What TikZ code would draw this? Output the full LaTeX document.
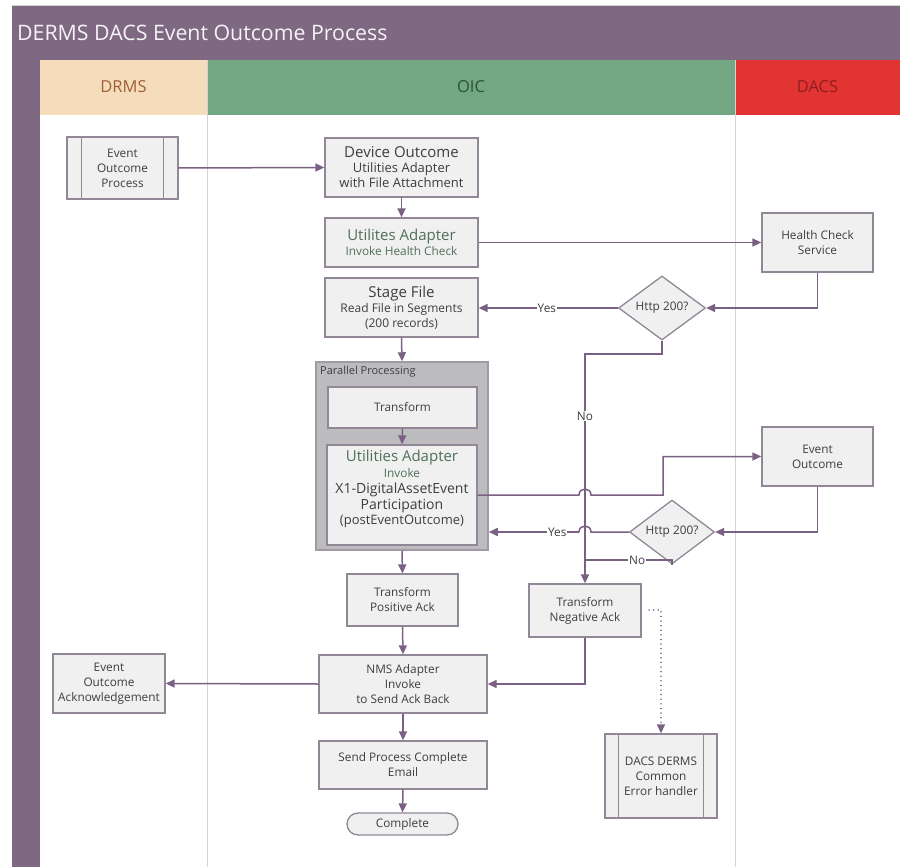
\documentclass[tikz,border=0pt]{standalone}
\usepackage{fontspec}
\setmainfont{Open Sans}
\usetikzlibrary{arrows.meta,shapes.geometric}
\definecolor{framec}{RGB}{126,104,130}
\definecolor{titletxt}{RGB}{246,242,247}
\definecolor{drmsbg}{RGB}{245,221,187}
\definecolor{drmstx}{RGB}{160,95,55}
\definecolor{oicbg}{RGB}{115,166,131}
\definecolor{oictx}{RGB}{42,82,58}
\definecolor{dacsbg}{RGB}{227,52,52}
\definecolor{dacstx}{RGB}{145,30,30}
\definecolor{lanel}{RGB}{215,210,216}
\definecolor{boxfill}{RGB}{240,240,241}
\definecolor{boxline}{RGB}{145,135,150}
\definecolor{arrowc}{RGB}{122,96,130}
\definecolor{parfill}{RGB}{188,188,190}
\definecolor{parline}{RGB}{160,154,164}
\definecolor{txt}{RGB}{62,62,64}
\definecolor{grtxt}{RGB}{78,112,88}
\newcommand{\sz}[2]{\fontsize{#1}{#2}\selectfont}
\begin{document}
\begin{tikzpicture}[x=1pt,y=-1pt,
  box/.style={draw=boxline, fill=boxfill, line width=1.3pt, text=txt, align=center, inner sep=2pt, font=\sz{11.8}{15}},
  dim/.style 2 args={minimum width=#1pt, minimum height=#2pt},
  flow/.style={draw=arrowc, line width=1.5pt, -{Triangle[length=9pt,width=8pt]}},
  plain/.style={draw=arrowc, line width=1.5pt},
  lbl/.style={fill=white, inner sep=1pt, text=txt, font=\sz{11.8}{13}},
  dia/.style={diamond, draw=boxline, fill=boxfill, line width=1.3pt, inner sep=0pt, text=txt, font=\sz{11.8}{13}},
]
\useasboundingbox (0,0) rectangle (900,867);
\fill[white] (0,0) rectangle (900,867);
% frame
\fill[framec] (12,5) rectangle (900,60);
\fill[framec] (12,60) rectangle (40,867);
\fill[drmsbg] (40,60) rectangle (207,115);
\fill[oicbg] (207,60) rectangle (735,115);
\fill[dacsbg] (735,60) rectangle (900,115);
\draw[lanel, line width=1pt] (207,60) -- (207,867);
\draw[lanel, line width=1pt] (735,60) -- (735,867);
\draw[lanel, line width=0.6pt] (12,5) -- (900,5);
\node[anchor=west, text=titletxt, font=\sz{21.3}{25}, inner sep=0pt] (title) at (17,33) {DERMS DACS Event Outcome Process};
\node[text=drmstx, font=\sz{16.5}{18}] (h1) at (123.5,87) {DRMS};
\node[text=oictx, font=\sz{16.5}{18}] (h2) at (471,87) {OIC};
\node[text=dacstx, font=\sz{16.5}{18}] (h3) at (817.5,87) {DACS};

% nodes
\node[box, dim={111}{62}] (epp) at (122.5,168) {Event\\Outcome\\Process};
\draw[boxline, line width=1.3pt] ([xshift=15pt]epp.north west) -- ([xshift=15pt]epp.south west);
\draw[boxline, line width=1.3pt] ([xshift=-15pt]epp.north east) -- ([xshift=-15pt]epp.south east);

\node[box, dim={153}{59}] (dev) at (401.5,167.5) {\sz{15}{17}Device Outcome\\\sz{13}{17}Utilities Adapter\\\sz{13}{17}with File Attachment};
\node[box, dim={153}{49}] (uah) at (401.5,242.5) {\color{grtxt}\sz{15}{17}Utilites Adapter\\\color{grtxt}\sz{11.8}{15}Invoke Health Check};
\node[box, dim={153}{59}] (stage) at (401.5,307.5) {\sz{15}{17}Stage File\\\sz{12}{15}Read File in Segments\\\sz{12}{15}(200 records)};
\node[box, dim={111}{59}] (hcs) at (817.5,242.5) {Health Check\\Service};
\node[dia, minimum width=87pt, minimum height=42pt] (d1) at (662,308) {Http 200?};

\node[draw=parline, fill=parfill, line width=1.5pt, dim={172}{188}] (par) at (402,456) {};
\node[anchor=north west, text=txt, font=\sz{11}{12}, inner sep=0pt] (parl) at (320,366) {Parallel Processing};
\node[box, dim={149}{41}] (tr) at (402.5,407.5) {Transform};
\node[box, dim={150}{100}] (uai) at (402,495) {};
\node[text=txt, align=center, inner sep=0pt] (uait) at (402,489) {\color{grtxt}\sz{15}{16}Utilities Adapter\\[2.5pt]\color{grtxt}\sz{11.8}{15}Invoke\\[3.5pt]\sz{14}{16.5}X1-DigitalAssetEvent\\[1.5pt]\sz{14}{16.5}Participation\\[1.5pt]\sz{13}{16.5}(postEventOutcome)};
\node[box, dim={111}{59}] (eo) at (817.5,456.5) {Event\\Outcome};
\node[dia, minimum width=85pt, minimum height=41pt] (d2) at (672,532) {Http 200?};

\node[box, dim={112}{53}] (tna) at (585,610.5) {Transform\\Negative Ack};
\node[box, dim={111}{52}] (tpa) at (402.5,600) {Transform\\Positive Ack};
\node[box, dim={168}{58}] (nms) at (403,684) {NMS Adapter\\Invoke\\to Send Ack Back};
\node[box, dim={112}{59}] (eoa) at (109,683.5) {Event\\Outcome\\Acknowledgement};
\node[box, dim={112}{84}] (err) at (661,776) {DACS DERMS\\Common\\Error handler};
\draw[boxline, line width=1.3pt] ([xshift=14pt]err.north west) -- ([xshift=14pt]err.south west);
\draw[boxline, line width=1.3pt] ([xshift=-14pt]err.north east) -- ([xshift=-14pt]err.south east);
\node[box, dim={168}{48}] (email) at (403,765) {Send Process Complete\\Email};
\node[box, dim={111}{22}, rounded corners=11pt, inner sep=0pt] (comp) at (402.5,824) {Complete};

% connectors
\draw[flow] (epp.east) -- (dev.west);
\draw[flow] (dev.south) -- (uah.north);
\draw[flow] (uah.east) -- (hcs.west |- uah.east);
\draw[flow] (hcs.south) -- (hcs.south |- d1.east) -- (d1.east);
\draw[flow] (d1.west) -- node[lbl, pos=0.51] {Yes} (d1.west -| stage.east);
\draw[flow] (stage.south) -- (par.north);
\draw[flow] (tr.south) -- (uai.north);

% No branch from first diamond
\coordinate (nb1) at (662,354);
\coordinate (nb2) at (585,354);
\draw[flow] (d1.south) -- (nb1) -- (nb2) -- node[lbl, pos=0.27] {No} (tna.north);

% to Event Outcome with jump
\coordinate (ja1) at (579,495);
\coordinate (ja2) at (591,495);
\coordinate (bend1) at (663,495);
\draw[flow] (uai.east |- ja1) -- (ja1) .. controls (579,487) and (591,487) .. (ja2) -- (bend1) -- (bend1 |- eo.west) -- (eo.west);
\draw[flow] (eo.south) -- (eo.south |- d2.east) -- (d2.east);
% Yes with jump
\coordinate (jb2) at (591,532);
\coordinate (jb1) at (579,532);
\draw[plain] (d2.west) -- (jb2) .. controls (591,524) and (579,524) .. (jb1);
\draw[flow] (jb1) -- node[lbl, pos=0.24] {Yes} (jb1 -| par.east);
% No from second diamond
\coordinate (nc1) at (672,560);
\draw[plain] (d2.south) -- (nc1) -- node[lbl, pos=0.4] {No} (nc1 -| tna.north);

\draw[flow] (par.south) -- (tpa.north);
\draw[flow] (tpa.south) -- (nms.north);
\draw[flow] (tna.south) -- (tna.south |- nms.east) -- (nms.east);
\draw[flow] (nms.west) -- (eoa.east);
\draw[flow] (nms.south) -- (email.north);
\draw[flow] (email.south) -- (comp.north);
\coordinate (ds) at (649,610);
\draw[draw=arrowc, line width=1.3pt, dash pattern=on 0.1pt off 4.5pt, line cap=round, -{Triangle[length=9pt,width=8pt]}] (ds) -- (ds -| err.north) -- (err.north);
\end{tikzpicture}
\end{document}
